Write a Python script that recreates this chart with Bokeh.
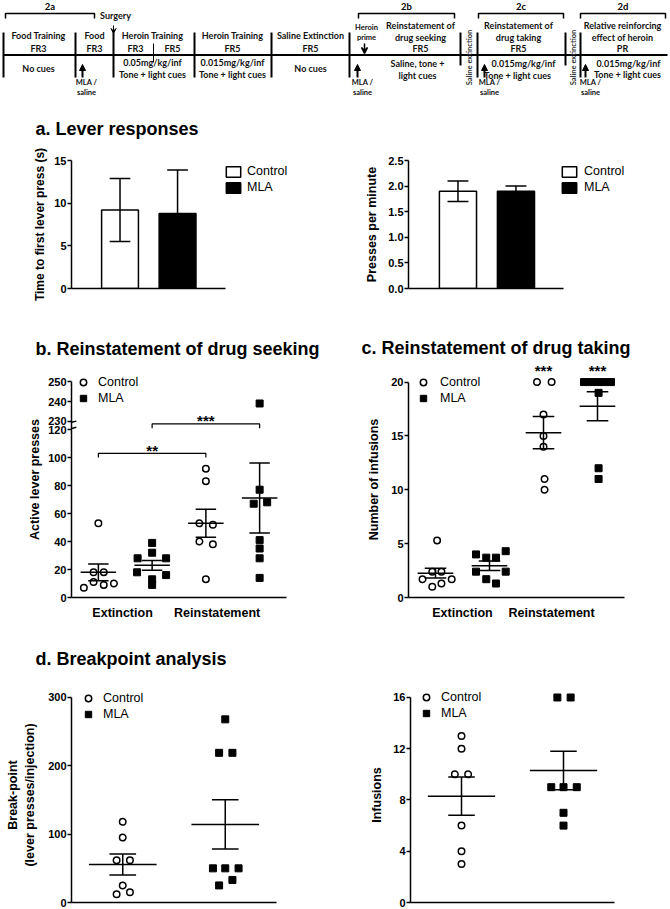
import math
from bokeh.plotting import figure
from bokeh.models import Range1d, FixedTicker, NumeralTickFormatter, Legend, LegendItem, Arrow, NormalHead, VeeHead
from bokeh.layouts import column, row
from bokeh.core.properties import value
from bokeh.embed import file_html
from bokeh.resources import INLINE

FONT = "Liberation Sans"
TLFONT = "Lato"

# ---------------- data ----------------
groups = ["Control", "MLA"]

# a. Lever responses (mean, SEM)
a_latency_mean = [9.2, 8.8]
a_latency_sem = [3.7, 5.1]
a_rate_mean = [1.9, 1.9]
a_rate_sem = [0.2, 0.1]

# b. Reinstatement of drug seeking (active lever presses)
phases = ["Extinction", "Reinstatement"]
b_ctrl_ext = [53, 18, 18, 11, 9, 10, 7]
b_mla_ext = [39, 32, 28, 28, 18, 16, 13, 9]
b_ctrl_rein = [92, 83, 53, 52, 40, 38, 13]
b_mla_rein = [239, 77, 68, 67, 41, 35, 28, 14]
b_mean = [18, 23, 53, 71]
b_sem = [6, 3.5, 10, 25]
b_jitter = [[0, -0.09, 0.1, -0.09, 0.1, 0.29, -0.27],
            [0, 0, -0.27, 0.26, -0.28, 0.26, 0, 0],
            [0, 0, -0.12, 0.13, -0.12, 0.13, 0],
            [0, 0, 0.14, -0.11, 0, 0, 0, 0]]
b_yticks = [0, 20, 40, 60, 80, 100, 120, 230, 240, 250]

# c. Reinstatement of drug taking (number of infusions)
c_ctrl_ext = [5.3, 2.4, 2.4, 1.7, 1.7, 1.0, 1.3]
c_mla_ext = [4.0, 3.7, 3.7, 4.3, 2.4, 2.4, 1.7, 1.3]
c_ctrl_rein = [20, 20, 17, 15, 14, 11, 10]
c_mla_rein = [20, 20, 20, 20, 20, 19, 12, 11]
c_mean = [2.26, 2.95, 15.3, 17.75]
c_sem = [0.45, 0.45, 1.5, 1.35]
c_jitter = [[0.03, -0.06, 0.11, -0.24, 0.3, -0.06, 0.11],
            [-0.25, -0.06, 0.12, 0.3, -0.25, 0.3, -0.06, 0.12],
            [-0.12, 0.15, 0, 0, 0, 0.02, 0.02],
            [-0.25, -0.125, 0, 0.125, 0.25, 0.02, 0.02, 0.02]]

# d. Breakpoint analysis
d_bp_ctrl = [118, 95, 62, 62, 25, 12, 15]
d_bp_mla = [268, 219, 219, 50, 50, 50, 33, 25]
d_bp_mean = [55.6, 114.3]
d_bp_sem = [15.5, 36]
d_bp_jitter = [[0, 0, -0.06, 0.07, 0, -0.06, 0.07],
               [0, -0.06, 0.07, -0.12, 0, 0.13, 0.07, -0.06]]
d_inf_ctrl = [13, 12, 10, 10, 6, 4, 3]
d_inf_mla = [16, 16, 9, 9, 9, 7, 6]
d_inf_mean = [8.3, 10.3]
d_inf_sem = [1.5, 1.5]
d_inf_jitter = [[0, 0, -0.065, 0.065, 0, 0, 0],
                [-0.06, 0.07, -0.12, 0, 0.13, 0, 0]]

# panel titles
titles = ["a. Lever responses", "b. Reinstatement of drug seeking",
          "c. Reinstatement of drug taking", "d. Breakpoint analysis"]

# timeline (experiment schedule) text content
tl_header = ["Food Training", "FR3", "Food", "FR3", "Heroin Training", "FR3", "FR5",
             "Heroin Training", "FR5", "Saline Extinction", "FR5",
             "Reinstatement of", "drug seeking", "FR5",
             "Reinstatement of", "drug taking", "FR5",
             "Relative reinforcing", "effect of heroin", "PR",
             "No cues", "0.05mg/kg/inf", "Tone + light cues",
             "0.015mg/kg/inf", "Tone + light cues", "No cues",
             "Saline, tone +", "light cues",
             "0.015mg/kg/inf", "Tone + light cues",
             "0.015mg/kg/inf", "Tone + light cues", "Surgery"]
tl_hx = [38, 38, 94, 94, 152, 135, 172, 232, 232, 310, 310,
         420, 420, 420, 518, 518, 518, 622, 622, 622,
         38, 152, 152, 232, 232, 310, 417, 417, 523, 517, 628, 627, 115]
tl_hy = [35, 48, 35, 48, 35, 48, 48, 35, 48, 35, 48,
         25, 37, 48, 25, 37, 48, 25, 37, 48,
         68, 62, 74, 62, 74, 68, 63, 75, 63, 75, 63, 74, 15]
tl_brackets = [(5, 94, "2a"), (358, 454, "2b"), (478, 563, "2c"), (580, 665, "2d")]
tl_div_x = [3, 75, 113, 194, 271, 349, 477, 580]
tl_short_x = [460, 565]
tl_mla_x = [82, 357, 484, 585]
tl_mla_lab_x = [86, 362, 489, 590]
tl_salext_x = [469, 573]

# ---------------- helpers ----------------
def base_fig(w, h, xr, yr, left, right, top, bottom):
    p = figure(width=w, height=h, x_range=xr, y_range=yr, output_backend="svg",
               toolbar_location=None, min_border_left=left, min_border_right=right,
               min_border_top=top, min_border_bottom=bottom)
    p.grid.visible = False
    p.outline_line_color = None
    for ax in p.axis:
        ax.axis_line_width = 1.5
        ax.axis_line_color = "black"
        ax.major_tick_line_width = 1.5
        ax.major_tick_line_color = "black"
        ax.minor_tick_line_color = None
        ax.major_tick_in = 0
        ax.major_label_text_font = FONT
        ax.major_label_text_font_style = "bold"
        ax.major_label_text_color = "black"
        ax.axis_label_text_font = FONT
        ax.axis_label_text_font_style = "bold"
        ax.axis_label_text_font_size = "12.5px"
        ax.axis_label_text_color = "black"
    p.yaxis.major_tick_out = 4
    p.yaxis.major_label_standoff = 1
    p.yaxis.major_label_text_font_size = "11px"
    p.xaxis.major_tick_out = 0
    p.xaxis.major_label_standoff = 0
    return p


def strip_fig(h, y0):
    s = figure(width=670, height=h, x_range=Range1d(0, 670), y_range=Range1d(y0 + h, y0),
               output_backend="svg", toolbar_location=None, min_border=0,
               x_axis_location=None, y_axis_location=None)
    s.grid.visible = False
    s.outline_line_color = None
    return s


def strip_title(s, xs, ys, texts):
    s.text(x=xs, y=ys, text=texts, text_align="left", text_baseline="middle",
           text_font=value(FONT), text_font_style="bold", text_font_size="18px",
           text_color="black")


def no_xticks(p):
    p.xaxis.ticker = FixedTicker(ticks=[])


def dots(p, centers, values_list, jitter_list, ytf=lambda v: v):
    rs = []
    for i, (vals, jit) in enumerate(zip(values_list, jitter_list)):
        xs = [centers[i] + j for j in jit]
        ys = [ytf(v) for v in vals]
        if i % 2 == 0:
            r = p.scatter(xs, ys, marker="circle", size=6.5, fill_color="white",
                          line_color="black", line_width=1.5)
        else:
            r = p.scatter(xs, ys, marker="square", size=7, fill_color="black",
                          line_color="black", line_width=1)
        rs.append(r)
    return rs


def mean_sem(p, centers, means, sems, half_w, cap_w):
    kw = dict(line_color="black", line_width=1.5)
    p.segment(x0=[c - half_w for c in centers], y0=means,
              x1=[c + half_w for c in centers], y1=means, **kw)
    lo = [m - s for m, s in zip(means, sems)]
    hi = [m + s for m, s in zip(means, sems)]
    p.segment(x0=centers, y0=lo, x1=centers, y1=hi, **kw)
    p.segment(x0=[c - cap_w for c in centers], y0=lo, x1=[c + cap_w for c in centers], y1=lo, **kw)
    p.segment(x0=[c - cap_w for c in centers], y0=hi, x1=[c + cap_w for c in centers], y1=hi, **kw)


def dot_legend(p, r_ctrl, r_mla, vx, vy, standoff=7):
    leg = Legend(items=[LegendItem(label=groups[0], renderers=[r_ctrl]),
                        LegendItem(label=groups[1], renderers=[r_mla])],
                 location=(vx, vy), border_line_color=None, background_fill_alpha=0,
                 padding=0, margin=0, spacing=0, glyph_width=16, glyph_height=16,
                 label_height=16, label_standoff=standoff, label_text_font=FONT,
                 label_text_font_size="12.5px", label_text_color="black")
    p.add_layout(leg)


def bar_panel(p, means, sems):
    xs = list(range(1, len(means) + 1))
    r0 = p.vbar(x=[xs[0]], top=[means[0]], width=0.64, fill_color="white",
                line_color="black", line_width=1.5)
    r1 = p.vbar(x=[xs[1]], top=[means[1]], width=0.64, fill_color="black",
                line_color="black", line_width=1.5)
    kw = dict(line_color="black", line_width=1.5)
    lo = [m - s for m, s in zip(means, sems)]
    hi = [m + s for m, s in zip(means, sems)]
    p.segment(x0=xs, y0=lo, x1=xs, y1=hi, **kw)
    p.segment(x0=[x - 0.18 for x in xs], y0=hi, x1=[x + 0.18 for x in xs], y1=hi, **kw)
    p.segment(x0=[x - 0.18 for x in xs], y0=lo, x1=[x + 0.18 for x in xs], y1=lo, **kw)
    return r0, r1


def bar_legend(p, r0, r1, vx, vy, standoff):
    leg = Legend(items=[LegendItem(label=groups[0], renderers=[r0]),
                        LegendItem(label=groups[1], renderers=[r1])],
                 location=(vx, vy), border_line_color=None, background_fill_alpha=0,
                 padding=0, margin=0, spacing=2, glyph_width=18, glyph_height=13,
                 label_height=13, label_standoff=standoff, label_text_font=FONT,
                 label_text_font_size="12.5px", label_text_color="black")
    p.add_layout(leg)


# ---------------- timeline ----------------
tl = strip_fig(98, 0)
tl.segment(x0=[3], y0=[54.5], x1=[667], y1=[54.5], line_color="black", line_width=1.8)
tl.segment(x0=tl_div_x, y0=[32] * len(tl_div_x), x1=tl_div_x, y1=[77] * len(tl_div_x),
           line_color="black", line_width=2)
tl.segment(x0=tl_short_x, y0=[32] * 2, x1=tl_short_x, y1=[65] * 2, line_color="black", line_width=2)
tl.segment(x0=[153], y0=[43], x1=[153], y1=[62], line_color="black", line_width=1)
for x0, x1, lab in tl_brackets:
    tl.line([x0, x0, x1, x1], [18, 13, 13, 18], line_color="black", line_width=1.5)
tl.text(x=[(b[0] + b[1]) / 2 for b in tl_brackets], y=[6] * 4, text=[b[2] for b in tl_brackets],
        text_align="center", text_baseline="middle", text_font=value(TLFONT),
        text_font_style="bold", text_font_size="9.5px", text_color="black")
tl.text(x=tl_hx, y=tl_hy, text=tl_header, text_align="center", text_baseline="middle",
        text_font=value(TLFONT), text_font_style="bold", text_font_size="9px", text_color="#111111")
tl.text(x=[366, 366], y=[27, 37], text=["Heroin", "prime"], text_align="center",
        text_baseline="middle", text_font=value(TLFONT), text_font_style="bold",
        text_font_size="7.5px", text_color="#111111")
tl.text(x=tl_mla_lab_x, y=[82] * 4, text=["MLA /"] * 4, text_align="center",
        text_baseline="middle", text_font=value(TLFONT), text_font_style="bold",
        text_font_size="7.5px", text_color="#111111")
tl.text(x=tl_mla_lab_x, y=[92] * 4, text=["saline"] * 4, text_align="center",
        text_baseline="middle", text_font=value(TLFONT), text_font_style="bold",
        text_font_size="7.5px", text_color="#111111")
tl.text(x=tl_salext_x, y=[57] * 2, text=["Saline extinction"] * 2, angle=math.pi / 2,
        text_align="center", text_baseline="middle", text_font=value(TLFONT),
        text_font_style="bold", text_font_size="7.5px", text_color="#333333")
for x in tl_mla_x:
    tl.add_layout(Arrow(end=NormalHead(size=6, fill_color="black", line_color="black"),
                        x_start=x, y_start=77, x_end=x, y_end=64, line_width=2))
tl.add_layout(Arrow(end=VeeHead(size=5, line_color="black", line_width=1), x_start=113, y_start=25,
                    x_end=113, y_end=33, line_width=1))
tl.add_layout(Arrow(end=VeeHead(size=6, line_color="black", line_width=1.5), x_start=364, y_start=43,
                    x_end=364, y_end=53, line_width=1.5))

# ---------------- title strips ----------------
ta = strip_fig(42, 98)
strip_title(ta, [35], [128], titles[:1])
tbc = strip_fig(58, 302)
strip_title(tbc, [35, 361], [348.5, 347.5], titles[1:3])
td = strip_fig(59, 622)
strip_title(td, [35], [658.5], titles[3:])

# ---------------- panel a ----------------
a1 = base_fig(335, 162, Range1d(0.157, 4.31), Range1d(0, 15), 71, 25, 20, 14)
no_xticks(a1)
a1.xaxis.bounds = (0.157, 2.835)
a1.yaxis.ticker = FixedTicker(ticks=[0, 5, 10, 15])
a1.yaxis.axis_label = "Time to first lever press (s)"
a1.yaxis.axis_label_text_font_size = "12px"
a1.yaxis.axis_label_standoff = 4
r0, r1 = bar_panel(a1, a_latency_mean, a_latency_sem)
bar_legend(a1, r0, r1, 153, 94, 5)

a2 = base_fig(305, 162, Range1d(0.147, 3.975), Range1d(0, 2.5), 73, 10, 20, 14)
no_xticks(a2)
a2.xaxis.bounds = (0.147, 2.82)
a2.yaxis.ticker = FixedTicker(ticks=[0, 0.5, 1.0, 1.5, 2.0, 2.5])
a2.yaxis.formatter = NumeralTickFormatter(format="0.0")
a2.yaxis.axis_label = "Presses per minute"
a2.yaxis.axis_label_standoff = 6
r0, r1 = bar_panel(a2, a_rate_mean, a_rate_sem)
bar_legend(a2, r0, r1, 152, 94, 6)

# ---------------- panel b (broken axis) ----------------
def b_tf(v):
    return v if v <= 120 else 126 + (v - 230) * 1.4

b = base_fig(335, 262, Range1d(0, 4), Range1d(0, 168.6), 71, 49, 1, 25)
b.yaxis.bounds = (0, b_tf(250))
b.yaxis.ticker = FixedTicker(ticks=[float(b_tf(t)) for t in b_yticks])
b.yaxis.major_label_overrides = {float(b_tf(t)): str(t) for t in b_yticks}
b.yaxis.axis_label = "Active lever presses"
b.yaxis.axis_label_standoff = 3
b_xlab_pos = [0.95, 2.71]
b.xaxis.ticker = FixedTicker(ticks=b_xlab_pos)
b.xaxis.major_label_overrides = {pos: lab for pos, lab in zip(b_xlab_pos, phases)}
b.xaxis.major_label_text_font_size = "12.5px"
b.xaxis.major_label_standoff = 8
centers4 = [0.5, 1.5, 2.5, 3.5]
rb = dots(b, centers4, [b_ctrl_ext, b_mla_ext, b_ctrl_rein, b_mla_rein], b_jitter, b_tf)
mean_sem(b, centers4, b_mean, b_sem, 0.33, 0.19)
# axis break marks
b.segment(x0=[0, 0], y0=[120.8, 125.2], x1=[0.09, 0.09], y1=[121.6, 126.0], line_color="black", line_width=1.5)
# significance brackets
b.line([centers4[0], centers4[0], centers4[2], centers4[2]], [100, 103, 103, 100], line_color="black", line_width=1.2)
b.line([centers4[1], centers4[1], centers4[3], centers4[3]], [121, 124, 124, 121], line_color="black", line_width=1.2)
b.text(x=[(centers4[0] + centers4[2]) / 2, (centers4[1] + centers4[3]) / 2], y=[105, 126.3],
       text=["**", "***"], text_align="center", text_baseline="middle", text_font=value(FONT),
       text_font_style="bold", text_font_size="15px", text_color="black")
dot_legend(b, rb[0], rb[1], 4, 191)

# ---------------- panel c ----------------
c = base_fig(305, 262, Range1d(0, 4), Range1d(0, 21.91), 73, 16, 1, 25)
c.yaxis.bounds = (0, 20)
c.yaxis.ticker = FixedTicker(ticks=[0, 5, 10, 15, 20])
c.yaxis.axis_label = "Number of infusions"
c.yaxis.axis_label_standoff = 7
c_xlab_pos = [1.0, 2.65]
c.xaxis.ticker = FixedTicker(ticks=c_xlab_pos)
c.xaxis.major_label_overrides = {pos: lab for pos, lab in zip(c_xlab_pos, phases)}
c.xaxis.major_label_text_font_size = "12.5px"
c.xaxis.major_label_standoff = 8
rc = dots(c, centers4, [c_ctrl_ext, c_mla_ext, c_ctrl_rein, c_mla_rein], c_jitter)
mean_sem(c, centers4, c_mean, c_sem, 0.33, 0.2)
c.text(x=centers4[2:], y=[21.1, 21.1], text=["***", "***"], text_align="center",
       text_baseline="middle", text_font=value(FONT), text_font_style="bold",
       text_font_size="15px", text_color="black")
dot_legend(c, rc[0], rc[1], 7, 191, 9)

# ---------------- panel d ----------------
centers2 = [0.5, 1.5]
d1 = base_fig(335, 227, Range1d(0, 2), Range1d(0, 314.6), 71, 59, 6, 6)
no_xticks(d1)
d1.yaxis.bounds = (0, 300)
d1.yaxis.ticker = FixedTicker(ticks=[0, 100, 200, 300])
d1.yaxis.axis_label = "Break-point\n(lever presses/injection)"
d1.yaxis.axis_label_standoff = 8
rd = dots(d1, centers2, [d_bp_ctrl, d_bp_mla], d_bp_jitter)
mean_sem(d1, centers2, d_bp_mean, d_bp_sem, 0.33, 0.13)
dot_legend(d1, rd[0], rd[1], 9, 180)

d2 = base_fig(305, 227, Range1d(0, 2), Range1d(0, 16.78), 75, 26, 6, 6)
no_xticks(d2)
d2.yaxis.bounds = (0, 16)
d2.yaxis.ticker = FixedTicker(ticks=[0, 4, 8, 12, 16])
d2.yaxis.axis_label = "Infusions"
d2.yaxis.axis_label_standoff = 6
rd2 = dots(d2, centers2, [d_inf_ctrl, d_inf_mla], d_inf_jitter)
mean_sem(d2, centers2, d_inf_mean, d_inf_sem, 0.33, 0.13)
dot_legend(d2, rd2[0], rd2[1], 8, 181)

layout = column(tl, ta, row(a1, a2, spacing=0), tbc, row(b, c, spacing=0), td,
                row(d1, d2, spacing=0), spacing=0)

with open("out.html", "w") as f:
    f.write(file_html(layout, INLINE))
